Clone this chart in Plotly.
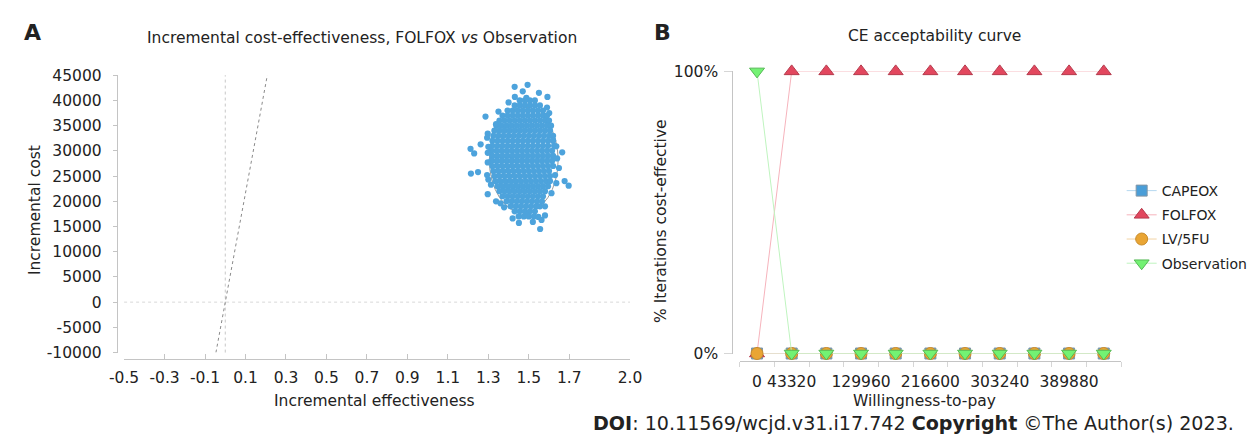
import plotly.graph_objects as go

W, H = 1255, 446

# ---------------- Panel A: incremental cost-effectiveness plane ----------------
cloud_row_cost = [40000, 39000, 38000, 37000, 36000, 35000, 34000, 33000, 32000, 31000,
                  30000, 29000, 28000, 27000, 26000, 25000, 24000, 23000, 22000, 21000,
                  20000, 19000, 18000, 17000]
cloud_row_eff = [
    [1.455, 1.48, 1.505, 1.53],
    [1.43, 1.455, 1.48, 1.505, 1.53, 1.555],
    [1.395, 1.42, 1.445, 1.47, 1.495, 1.52, 1.545, 1.57],
    [1.37, 1.395, 1.42, 1.445, 1.47, 1.495, 1.52, 1.545, 1.57, 1.59],
    [1.355, 1.38, 1.405, 1.43, 1.455, 1.48, 1.505, 1.53, 1.555, 1.58, 1.60],
    [1.34, 1.365, 1.39, 1.415, 1.44, 1.465, 1.49, 1.515, 1.54, 1.565, 1.59, 1.61],
    [1.33, 1.355, 1.38, 1.405, 1.43, 1.455, 1.48, 1.505, 1.53, 1.555, 1.58, 1.605],
    [1.325, 1.35, 1.375, 1.40, 1.425, 1.45, 1.475, 1.50, 1.525, 1.55, 1.575, 1.60, 1.62],
    [1.32, 1.345, 1.37, 1.395, 1.42, 1.445, 1.47, 1.495, 1.52, 1.545, 1.57, 1.595, 1.62],
    [1.32, 1.345, 1.37, 1.395, 1.42, 1.445, 1.47, 1.495, 1.52, 1.545, 1.57, 1.595, 1.625],
    [1.315, 1.34, 1.365, 1.39, 1.415, 1.44, 1.465, 1.49, 1.515, 1.54, 1.565, 1.59, 1.615],
    [1.32, 1.345, 1.37, 1.395, 1.42, 1.445, 1.47, 1.495, 1.52, 1.545, 1.57, 1.595, 1.62],
    [1.315, 1.34, 1.365, 1.39, 1.415, 1.44, 1.465, 1.49, 1.515, 1.54, 1.565, 1.59, 1.615],
    [1.32, 1.345, 1.37, 1.395, 1.42, 1.445, 1.47, 1.495, 1.52, 1.545, 1.57, 1.595, 1.62],
    [1.325, 1.35, 1.375, 1.40, 1.425, 1.45, 1.475, 1.50, 1.525, 1.55, 1.575, 1.60],
    [1.33, 1.355, 1.38, 1.405, 1.43, 1.455, 1.48, 1.505, 1.53, 1.555, 1.58, 1.605],
    [1.335, 1.36, 1.385, 1.41, 1.435, 1.46, 1.485, 1.51, 1.535, 1.56, 1.585, 1.605],
    [1.345, 1.37, 1.395, 1.42, 1.445, 1.47, 1.495, 1.52, 1.545, 1.57, 1.595],
    [1.355, 1.38, 1.405, 1.43, 1.455, 1.48, 1.505, 1.53, 1.555, 1.58],
    [1.37, 1.395, 1.42, 1.445, 1.47, 1.495, 1.52, 1.545, 1.57],
    [1.39, 1.415, 1.44, 1.465, 1.49, 1.515, 1.54, 1.565],
    [1.41, 1.435, 1.46, 1.485, 1.51, 1.535, 1.555],
    [1.43, 1.455, 1.48, 1.505, 1.53],
    [1.45, 1.475, 1.50, 1.525],
]
fringe_eff = [1.43, 1.494, 1.431, 1.488, 1.592, 1.286, 1.601, 1.297, 1.294, 1.262,
              1.212, 1.230, 1.665, 1.214, 1.249, 1.649, 1.677, 1.697, 1.297, 1.338,
              1.451, 1.556, 1.580, 1.547, 1.563, 1.491, 1.378, 1.612, 1.636, 1.297,
              1.297, 1.294, 1.313, 1.338, 1.620, 1.636, 1.35, 1.59, 1.40, 1.30,
              1.64, 1.30, 1.63, 1.36, 1.58, 1.42, 1.52, 1.55, 1.47]
fringe_cost = [42700, 43100, 40700, 40500, 40700, 36800, 37500, 33400, 32600, 31300,
               30400, 29500, 29700, 25500, 25800, 26600, 24000, 23100, 21400, 20000,
               15700, 14500, 17200, 16900, 16300, 17200, 18800, 21600, 23600, 27700,
               29600, 25200, 23300, 35300, 32100, 30900, 37800, 38600, 39600, 30800,
               28500, 24300, 25200, 19600, 19000, 16600, 15900, 41500, 41800]

ellipse_center_eff = 1.475
ellipse_center_cost = 28200
ellipse_half_eff = 0.17
ellipse_half_cost = 10500

wtp_threshold = 216600
cost_extent = [-10000, 45000]

eff_ticks = [-0.5, -0.3, -0.1, 0.1, 0.3, 0.5, 0.7, 0.9, 1.1, 1.3, 1.5, 1.7, 2.0]
cost_ticks = [-10000, -5000, 0, 5000, 10000, 15000, 20000, 25000, 30000, 35000, 40000, 45000]

# ---------------- Panel B: CE acceptability curve ----------------
wtp = [0, 43320, 86640, 129960, 173280, 216600, 259920, 303240, 346560, 389880, 433200]
wtp_labels = [0, 43320, 129960, 216600, 303240, 389880]
ceac_capeox = [0, 0, 0, 0, 0, 0, 0, 0, 0, 0, 0]
ceac_folfox = [0, 1, 1, 1, 1, 1, 1, 1, 1, 1, 1]
ceac_lv5fu = [0, 0, 0, 0, 0, 0, 0, 0, 0, 0, 0]
ceac_observation = [1, 0, 0, 0, 0, 0, 0, 0, 0, 0, 0]

def fx(p):
    return p / W

def fy(p):
    return 1 - p / H

FONT = "DejaVu Sans"
TXT = "#222222"
AX = "#c4c4c4"

cloud_x = [e for row in cloud_row_eff for e in row] + fringe_eff
cloud_y = [c for c, row in zip(cloud_row_cost, cloud_row_eff) for _ in row] + fringe_cost

fig = go.Figure()

fig.add_trace(go.Scatter(
    x=[c / wtp_threshold for c in cost_extent], y=cost_extent,
    mode="lines", line=dict(color="#8a8a8a", width=1, dash="dot"),
    xaxis="x", yaxis="y", showlegend=False, hoverinfo="skip"))

fig.add_trace(go.Scatter(
    x=cloud_x, y=cloud_y, mode="markers",
    marker=dict(size=6.2, color="#4DA3DC", line=dict(width=0)),
    xaxis="x", yaxis="y", showlegend=False))

series = [
    ("CAPEOX", ceac_capeox, "square", 11, "#4A9ED8", "#8296a6", "#b5d8f0"),
    ("FOLFOX", ceac_folfox, "triangle-up", 13, "#E2475E", "#b53a4c", "#f6b3bc"),
    ("LV/5FU", ceac_lv5fu, "circle", 12, "#E9A534", "#c98c2a", "#f2d3a5"),
    ("Observation", ceac_observation, "triangle-down", 13, "#73F273", "#55b955", "#bff4bf"),
]
for name, vals, sym, size, col, lcol, linecol in series:
    fig.add_trace(go.Scatter(
        x=wtp, y=vals, name=name, mode="lines+markers",
        line=dict(color=linecol, width=1),
        marker=dict(symbol=sym, size=size, color=col, line=dict(color=lcol, width=1)),
        xaxis="x2", yaxis="y2", cliponaxis=False, legendgroup=name))

half_step = (wtp[1] - wtp[0]) / 2
boundaries = [w - half_step for w in wtp] + [wtp[-1] + half_step]

tickfont = dict(family=FONT, size=15.5, color=TXT)

fig.update_layout(
    width=W, height=H, margin=dict(l=0, r=0, t=0, b=0),
    paper_bgcolor="white", plot_bgcolor="white",
    font=dict(family=FONT, color=TXT),
    xaxis=dict(domain=[fx(111.5), fx(628.5)], range=[-0.5, 2.0], anchor="free",
               position=fy(365), showline=True, linecolor=AX, linewidth=1,
               tickvals=eff_ticks, ticktext=[f"{v:.1f}" for v in eff_ticks],
               ticks="inside", ticklen=5, tickcolor=AX, showgrid=False, zeroline=False,
               tickfont=tickfont, ticklabelstandoff=4),
    yaxis=dict(domain=[fy(358), fy(69)], range=[-10000, 45000], anchor="free",
               position=fx(104), showline=True, linecolor=AX, linewidth=1,
               tickvals=cost_ticks, ticktext=[str(v) for v in cost_ticks],
               ticks="outside", ticklen=4, tickcolor=AX, showgrid=False, zeroline=False,
               tickfont=tickfont, ticklabelstandoff=8),
    xaxis2=dict(domain=[fx(740.6), fx(1130.4)],
                range=[boundaries[0], boundaries[-1]], anchor="free",
                position=fy(366.7), showline=True, linecolor=AX, linewidth=1,
                tickvals=wtp_labels, ticktext=[str(v) for v in wtp_labels],
                ticks="", showgrid=False, zeroline=False, tickfont=tickfont,
                ticklabelstandoff=6,
                minor=dict(tickvals=boundaries, ticks="outside", ticklen=5,
                           tickcolor="#d6d6d6", showgrid=False)),
    yaxis2=dict(domain=[fy(359), fy(65)], range=[0, 1], anchor="free",
                position=fx(733), showline=True, linecolor=AX, linewidth=1,
                tickvals=[0, 1], ticktext=["0%", "100%"], ticks="outside", ticklen=8,
                tickcolor="#d6d6d6", showgrid=False, zeroline=False, tickfont=tickfont,
                ticklabelstandoff=3),
    legend=dict(x=fx(1131), y=fy(173), xanchor="left", yanchor="top",
                font=dict(family=FONT, size=14, color=TXT), bgcolor="rgba(0,0,0,0)",
                tracegroupgap=3, itemwidth=30),
    showlegend=True,
)

fig.add_shape(type="line", xref="x", yref="y domain", x0=0, x1=0, y0=0, y1=1,
              line=dict(color="#c8c8c8", width=1, dash="dot"), layer="below")
fig.add_shape(type="line", xref="x domain", yref="y", x0=0, x1=1, y0=0, y1=0,
              line=dict(color="#d8d8d8", width=1, dash="dot"), layer="below")
fig.add_shape(type="circle", xref="x", yref="y",
              x0=ellipse_center_eff - ellipse_half_eff, x1=ellipse_center_eff + ellipse_half_eff,
              y0=ellipse_center_cost - ellipse_half_cost, y1=ellipse_center_cost + ellipse_half_cost,
              line=dict(color="#9a9a9a", width=1), layer="below")

def ann(text, x, y, size, bold=False, angle=0, xanchor="center"):
    fig.add_annotation(text=f"<b>{text}</b>" if bold else text, x=fx(x), y=fy(y),
                       xref="paper", yref="paper", showarrow=False, textangle=angle,
                       xanchor=xanchor, yanchor="middle",
                       font=dict(family=FONT, size=size, color=TXT))

ann("A", 18, 25, 22, bold=True)
ann("B", 662, 25, 22, bold=True)
ann("Incremental cost-effectiveness, FOLFOX <i>vs</i> Observation", 355, 30, 15.5)
ann("CE acceptability curve", 940, 28, 15.5)
ann("Incremental cost", 20, 210, 15.5, angle=-90)
ann("Incremental effectiveness", 367, 408, 15.5)
ann("% Iterations cost-effective", 660, 221, 15.5, angle=-90)
ann("Willingness-to-pay", 930, 408, 15.5)
ann("<b>DOI</b>: 10.11569/wcjd.v31.i17.742 <b>Copyright</b> ©The Author(s) 2023.",
    1248, 432, 19.1, xanchor="right")

fig.write_html("out.html", config={"displayModeBar": False},
               post_script="document.body.style.margin='0';document.documentElement.style.overflow='hidden';")
